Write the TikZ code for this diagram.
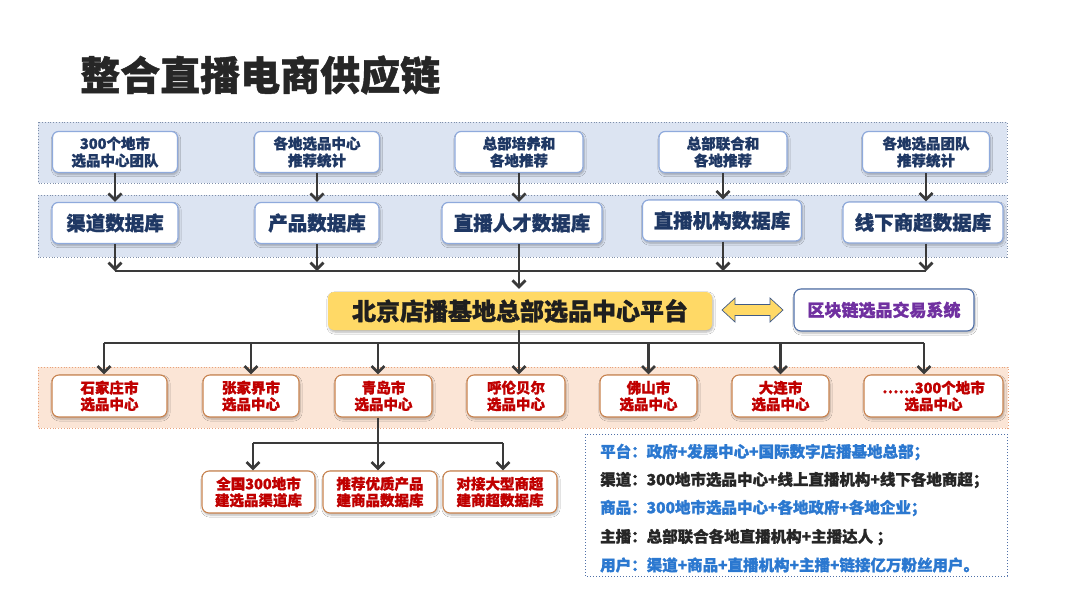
\documentclass[tikz,border=0pt]{standalone}
\usepackage{fontspec}
\setmainfont{Noto Sans CJK SC}[BoldFeatures={FakeBold=1.2}]
\usetikzlibrary{arrows.meta,shadows.blur}
\definecolor{navy}{HTML}{1F3864}
\definecolor{boxblue}{HTML}{8FAADC}
\definecolor{bandblue}{HTML}{DCE4F2}
\definecolor{bandblueline}{HTML}{7F8FAA}
\definecolor{bandorange}{HTML}{FBE5D6}
\definecolor{bandorangeline}{HTML}{E9A27A}
\definecolor{boxorange}{HTML}{C9834F}
\definecolor{cityred}{HTML}{C00000}
\definecolor{linegray}{HTML}{3A3A3A}
\definecolor{gold}{HTML}{FFD966}
\definecolor{purp}{HTML}{7030A0}
\definecolor{infoblue}{HTML}{2B78D0}
\definecolor{infoline}{HTML}{5070A8}
\definecolor{titlegray}{HTML}{262626}
\begin{document}
\begin{tikzpicture}[x=1pt,y=-1pt,
  shadowed/.style={blur shadow={shadow blur steps=6,shadow xshift=1pt,shadow yshift=-2pt,shadow opacity=30}},
  tbox/.style={shadowed,draw=boxblue,line width=1.2pt,fill=white,rounded corners=6pt,align=center,
    font=\bfseries\fontsize{14.5}{17}\selectfont,text=navy,minimum height=41pt,inner sep=0pt},
  dbbox/.style={shadowed,draw=boxblue,line width=1.2pt,fill=white,rounded corners=6pt,align=center,
    font=\bfseries\fontsize{19.5}{22}\selectfont,text=navy,minimum height=41pt,inner sep=0pt},
  citybox/.style={shadowed,draw=boxorange,line width=1.1pt,fill=white,rounded corners=7pt,align=center,
    font=\bfseries\fontsize{14.5}{16.5}\selectfont,text=cityred,minimum height=42pt,inner sep=0pt},
  blueband/.style={draw=bandblueline,fill=bandblue,dotted,line width=0.8pt},
  orangeband/.style={draw=bandorangeline,fill=bandorange,dotted,line width=0.8pt},
  conn/.style={draw=linegray,line width=2.7pt},
  arr/.style={conn,-{Straight Barb[length=6.5pt,width=13pt]}},
  infotext/.style={anchor=west,inner sep=0pt,font=\bfseries\fontsize{15.5}{18}\selectfont},
]
\useasboundingbox (0,0) rectangle (1080,608);
\fill[white] (0,0) rectangle (1080,608);

% title
\node[anchor=west,inner sep=0pt,text=titlegray,font=\bfseries\fontsize{40}{44}\selectfont] (title) at (80,75) {整合直播电商供应链};

% bands
\draw[blueband] (38,122) rectangle (1007,183);
\draw[blueband] (38,195) rectangle (1007,257);
\draw[orangeband] (38,367) rectangle (1008,428);

% top boxes
\node[tbox,minimum width=125pt] (T1) at (115,152) {300个地市\\选品中心团队};
\node[tbox,minimum width=125pt] (T2) at (317,152) {各地选品中心\\推荐统计};
\node[tbox,minimum width=128pt] (T3) at (519,152) {总部培养和\\各地推荐};
\node[tbox,minimum width=128pt] (T4) at (723,152) {总部联合和\\各地推荐};
\node[tbox,minimum width=127pt] (T5) at (926,152) {各地选品团队\\推荐统计};

% database boxes
\node[dbbox,minimum width=126pt] (R1) at (115,223) {渠道数据库};
\node[dbbox,minimum width=124pt] (R2) at (317,223) {产品数据库};
\node[dbbox,minimum width=160pt] (R3) at (522,223) {直播人才数据库};
\node[dbbox,minimum width=159pt] (R4) at (722,220.5) {直播机构数据库};
\node[dbbox,minimum width=160pt] (R5) at (923,222.5) {线下商超数据库};

% platform
\node[shadowed,fill=gold,rounded corners=6pt,minimum width=384pt,minimum height=38pt,inner sep=0pt,
  font=\bfseries\fontsize{24}{26}\selectfont,text=black!88] (Y) at (520,311) {北京店播基地总部选品中心平台};
\node[shadowed,draw=infoline,line width=1.1pt,fill=white,rounded corners=7pt,minimum width=180pt,minimum height=42pt,
  inner sep=0pt,font=\bfseries\fontsize{17}{19}\selectfont,text=purp] (BC) at (884,310) {区块链选品交易系统};
\draw[fill=gold,draw=infoline!80!black,line width=0.7pt]
  (722,310) -- (735,298) -- (735,304.5) -- (770,304.5) -- (770,298) -- (783,310)
  -- (770,322) -- (770,315.5) -- (735,315.5) -- (735,322) -- cycle;

% city boxes
\node[citybox,minimum width=115pt] (C1) at (109.5,396) {石家庄市\\选品中心};
\node[citybox,minimum width=96pt] (C2) at (251,396) {张家界市\\选品中心};
\node[citybox,minimum width=97pt] (C3) at (383.5,396) {青岛市\\选品中心};
\node[citybox,minimum width=98pt] (C4) at (516,396) {呼伦贝尔\\选品中心};
\node[citybox,minimum width=97pt] (C5) at (648.5,396) {佛山市\\选品中心};
\node[citybox,minimum width=97pt] (C6) at (780.5,396) {大连市\\选品中心};
\node[citybox,minimum width=139pt] (C7) at (933.5,396) {……300个地市\\选品中心};

% bottom boxes
\node[citybox,minimum width=113pt] (B1) at (258.5,492) {全国300地市\\建选品渠道库};
\node[citybox,minimum width=114pt] (B2) at (380,492) {推荐优质产品\\建商品数据库};
\node[citybox,minimum width=114pt] (B3) at (500,492) {对接大型商超\\建商超数据库};

% info box
\draw[draw=infoline,dotted,line width=1pt,fill=white] (585,434) rectangle (1007,576);
\node[infotext,text=infoblue] (I1) at (600,452) {平台：政府+发展中心+国际数字店播基地总部；};
\node[infotext,text=titlegray] (I2) at (600,480) {渠道：300地市选品中心+线上直播机构+线下各地商超；};
\node[infotext,text=infoblue] (I3) at (600,508) {商品：300地市选品中心+各地政府+各地企业；};
\node[infotext,text=titlegray] (I4) at (600,537) {主播：总部联合各地直播机构+主播达人 ；};
\node[infotext,text=infoblue] (I5) at (600,565) {用户：渠道+商品+直播机构+主播+链接亿万粉丝用户。};

% connectors top -> db
\foreach \i in {1,2,3,4,5} {
  \draw[arr] (T\i.south) -- (T\i.south |- R\i.north);
}
% db -> bus
\coordinate (bus1) at (519,271);
\foreach \i in {1,2,4,5} {
  \draw[arr] (T\i.south |- R\i.south) -- (T\i.south |- bus1);
}
\draw[conn] (T1.south |- bus1) -- (T5.south |- bus1);
\draw[arr,shorten >=3pt] (T3.south |- R3.south) -- (T3.south |- Y.north);

% platform -> cities
\coordinate (bus2) at (519,343);
\draw[conn] (T3.south |- Y.south) -- (T3.south |- bus2);
\draw[conn] ([xshift=-5.5pt]C1.north |- bus2) -- ([xshift=-9.5pt]C7.north |- bus2);
\draw[arr] ([xshift=-5.5pt]C1.north |- bus2) -- ([xshift=-5.5pt]C1.north);
\draw[arr] (C2.north |- bus2) -- (C2.north);
\draw[arr] ([xshift=-5.5pt]C3.north |- bus2) -- ([xshift=-5.5pt]C3.north);
\draw[arr] ([xshift=3pt]C4.north |- bus2) -- ([xshift=3pt]C4.north);
\draw[arr] (C5.north |- bus2) -- (C5.north);
\draw[arr] (C6.north |- bus2) -- (C6.north);
\draw[arr] ([xshift=-9.5pt]C7.north |- bus2) -- ([xshift=-9.5pt]C7.north);

% Qingdao -> bottom boxes
\coordinate (bus3) at (378,443);
\draw[conn] ([xshift=-5.5pt]C3.south) -- ([xshift=-5.5pt]C3.south |- bus3);
\draw[conn] ([xshift=-5.5pt]B1.north |- bus3) -- ([xshift=3pt]B3.north |- bus3);
\draw[arr] ([xshift=-5.5pt]B1.north |- bus3) -- ([xshift=-5.5pt]B1.north);
\draw[arr] ([xshift=-2pt]B2.north |- bus3) -- ([xshift=-2pt]B2.north);
\draw[arr] ([xshift=3pt]B3.north |- bus3) -- ([xshift=3pt]B3.north);
\end{tikzpicture}
\end{document}
